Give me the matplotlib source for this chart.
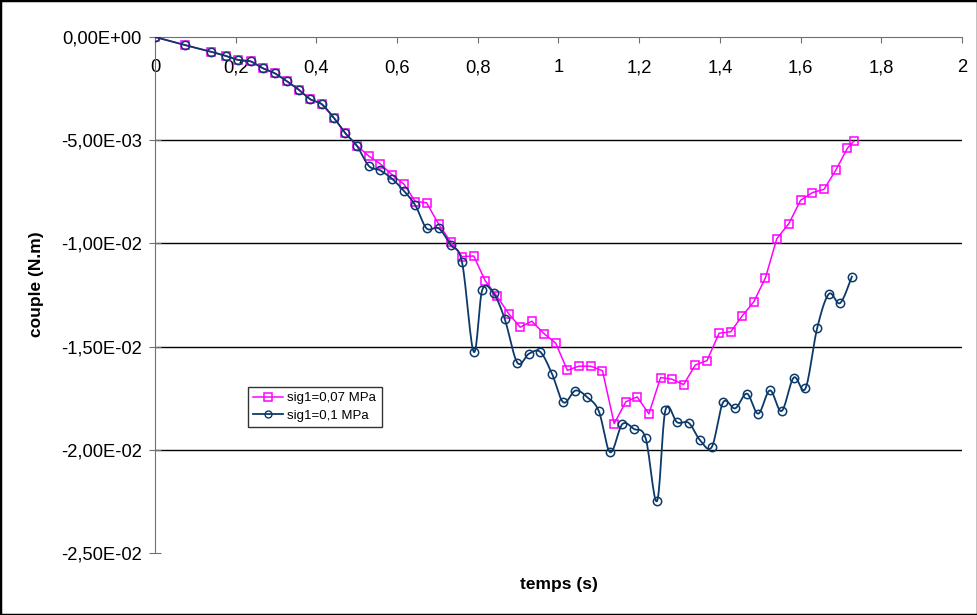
import numpy as np
import matplotlib
matplotlib.use("Agg")
import matplotlib.pyplot as plt
from matplotlib.patches import Rectangle
from matplotlib.ticker import FuncFormatter

plt.rcParams["font.family"] = ["Liberation Sans", "DejaVu Sans"]

# sig1 = 0,07 MPa
t_007 = [0, 0.074, 0.138, 0.176, 0.206, 0.237, 0.268, 0.297, 0.326, 0.356,
         0.385, 0.413, 0.443, 0.472, 0.500, 0.530, 0.558, 0.588, 0.617, 0.645,
         0.673, 0.703, 0.733, 0.761, 0.790, 0.818, 0.847, 0.877, 0.905, 0.934,
         0.964, 0.993, 1.022, 1.050, 1.080, 1.109, 1.138, 1.167, 1.195, 1.224,
         1.253, 1.281, 1.310, 1.339, 1.368, 1.398, 1.427, 1.455, 1.484, 1.513,
         1.541, 1.571, 1.600, 1.629, 1.658, 1.687, 1.716, 1.732]
c_007 = [0, -0.00039, -0.00071, -0.00092, -0.00111, -0.00118, -0.00152,
         -0.00176, -0.00213, -0.00255, -0.00302, -0.00325, -0.00391, -0.00467,
         -0.00526, -0.00577, -0.00614, -0.00669, -0.00713, -0.00797, -0.00803,
         -0.00907, -0.00993, -0.01064, -0.01061, -0.01180, -0.01255, -0.01342,
         -0.01406, -0.01377, -0.01437, -0.01483, -0.01615, -0.01595, -0.01595,
         -0.01617, -0.01873, -0.01767, -0.01744, -0.01826, -0.01650, -0.01658,
         -0.01684, -0.01589, -0.01568, -0.01435, -0.01428, -0.01352, -0.01283,
         -0.01166, -0.00977, -0.00904, -0.00791, -0.00754, -0.00738, -0.00646,
         -0.00539, -0.00505]

# sig1 = 0,1 MPa
t_01 = [0, 0.074, 0.138, 0.176, 0.206, 0.237, 0.268, 0.297, 0.326, 0.356,
        0.385, 0.413, 0.443, 0.472, 0.500, 0.530, 0.558, 0.588, 0.617, 0.645,
        0.673, 0.703, 0.733, 0.761, 0.790, 0.811, 0.839, 0.867, 0.898, 0.927,
        0.955, 0.984, 1.012, 1.042, 1.071, 1.100, 1.128, 1.158, 1.187, 1.216,
        1.244, 1.265, 1.294, 1.323, 1.351, 1.380, 1.408, 1.438, 1.467, 1.495,
        1.524, 1.553, 1.583, 1.612, 1.641, 1.670, 1.698, 1.727]
c_01 = [0, -0.00039, -0.00071, -0.00092, -0.00111, -0.00118, -0.00152,
        -0.00176, -0.00213, -0.00255, -0.00302, -0.00325, -0.00391, -0.00467,
        -0.00526, -0.00625, -0.00646, -0.00688, -0.00746, -0.00815, -0.00927,
        -0.00927, -0.01008, -0.01092, -0.01526, -0.01226, -0.01242, -0.01368,
        -0.01578, -0.01534, -0.01526, -0.01632, -0.01770, -0.01713, -0.01745,
        -0.01813, -0.02012, -0.01876, -0.01899, -0.01944, -0.02249, -0.01808,
        -0.01867, -0.01870, -0.01954, -0.01986, -0.01770, -0.01799, -0.01728,
        -0.01825, -0.01712, -0.01812, -0.01650, -0.01703, -0.01411, -0.01245,
        -0.01289, -0.01161]

y_ticks = [0, -0.005, -0.01, -0.015, -0.02, -0.025]
x_ticks = [0, 0.2, 0.4, 0.6, 0.8, 1, 1.2, 1.4, 1.6, 1.8, 2]

PINK = "#ff00ff"
NAVY = "#0b3a6a"


def smooth_curve(x, y, n=16):
    """Excel style smoothed line (bezier with 1/6 tangents)."""
    pts = np.column_stack([x, y])
    out = [pts[0]]
    s = np.linspace(0, 1, n)[1:, None]
    for i in range(len(pts) - 1):
        p0 = pts[i - 1] if i > 0 else pts[i]
        p1 = pts[i]
        p2 = pts[i + 1]
        p3 = pts[i + 2] if i + 2 < len(pts) else pts[i + 1]
        b1 = p1 + (p2 - p0) / 6
        b2 = p2 - (p3 - p1) / 6
        seg = ((1 - s) ** 3) * p1 + 3 * ((1 - s) ** 2) * s * b1 \
            + 3 * (1 - s) * s ** 2 * b2 + s ** 3 * p2
        out.extend(seg)
    out = np.array(out)
    return out[:, 0], out[:, 1]


fig = plt.figure(figsize=(9.78, 6.15), dpi=100)
ax = fig.add_axes([155 / 978, 62 / 615, 807 / 978, 516 / 615])

ax.set_xlim(0, 2)
ax.set_ylim(-0.025, 0)

# horizontal gridlines
for v in y_ticks[1:-1]:
    ax.axhline(v, color="black", lw=1, zorder=1)

ax.plot(t_007, c_007, color=PINK, lw=1.1, marker="s", ms=6, mfc="none",
        mec=PINK, mew=1.1, zorder=3, label="sig1=0,07 MPa")

sx, sy = smooth_curve(t_01, c_01)
ax.plot(sx, sy, color=NAVY, lw=1.3, zorder=4)
ax.plot(t_01, c_01, ls="none", marker="o", ms=6, mfc="none", mec=NAVY,
        mew=1.1, zorder=5)
ax.plot([], [], color=NAVY, lw=1.3, marker="o", ms=5, mfc="none", mec=NAVY,
        label="sig1=0,1 MPa")

ax.spines["top"].set_visible(False)
ax.spines["right"].set_visible(False)
ax.spines["bottom"].set_position(("data", 0))
ax.spines["bottom"].set_color("#707070")
ax.spines["left"].set_color("#707070")
ax.spines["bottom"].set_zorder(2)

ax.set_xticks(x_ticks)
ax.set_yticks(y_ticks)
ax.xaxis.set_major_formatter(FuncFormatter(
    lambda v, p: ("%g" % v).replace(".", ",")))
ax.yaxis.set_major_formatter(FuncFormatter(
    lambda v, p: ("%.2E" % (0 if abs(v) < 1e-12 else v)).replace(".", ",")))
ax.tick_params(axis="x", direction="out", length=4, color="#707070",
               labelsize=13.2, pad=12)
ax.tick_params(axis="y", direction="inout", length=9, color="#707070",
               labelsize=13.2, pad=5)

ax.text(0.5, -0.062, "temps (s)", transform=ax.transAxes, ha="center",
        va="center", fontsize=12.5, fontweight="bold")
ax.text(-0.147, 0.52, "couple (N.m)", transform=ax.transAxes, ha="center",
        va="center", rotation=90, fontsize=12.5, fontweight="bold")

leg = ax.legend(loc="upper left", bbox_to_anchor=(0.115, 0.322),
                borderaxespad=0, fontsize=9.5, frameon=True, fancybox=False,
                handlelength=2.3, handletextpad=0.3, borderpad=0.4,
                labelspacing=0.4)
leg.get_frame().set_edgecolor("black")
leg.get_frame().set_linewidth(1)

fig.patches.append(Rectangle((0, 0), 1, 1, transform=fig.transFigure,
                             fill=False, ec="black", lw=2.5))

fig.savefig("out.png", dpi=100)
